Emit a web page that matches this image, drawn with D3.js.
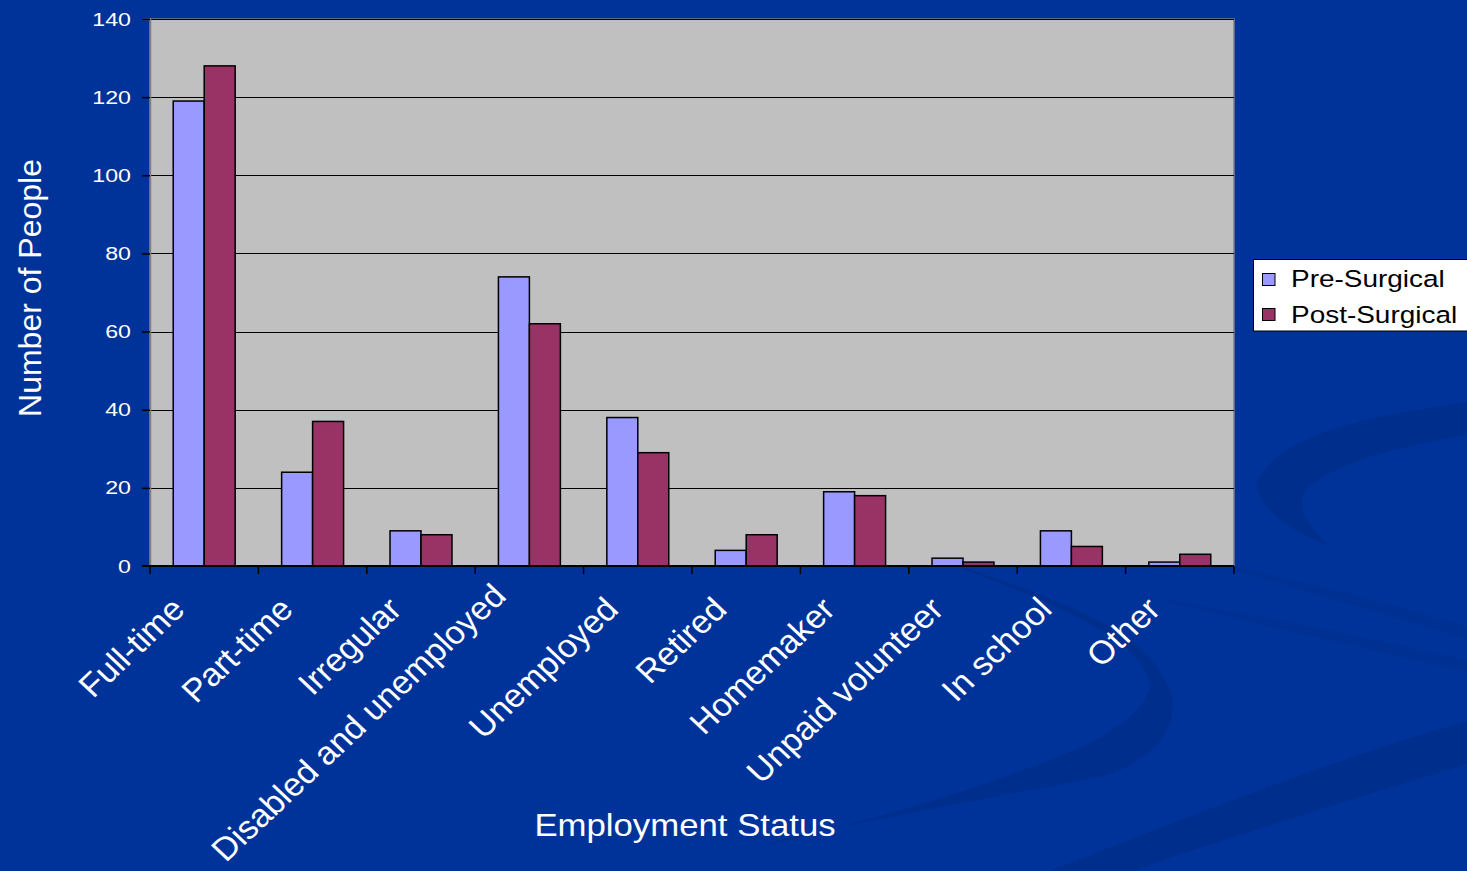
<!DOCTYPE html>
<html>
<head>
<meta charset="utf-8">
<script src="https://cdn.jsdelivr.net/npm/d3@7"></script>
<style>
  html, body { margin: 0; padding: 0; background: #003399; overflow: hidden; }
  svg { display: block; }
  text { font-family: "Liberation Sans", Arial, sans-serif; }
</style>
</head>
<body>
<svg id="chart" width="1467" height="871"></svg>
<script>
const categories = ["Full-time", "Part-time", "Irregular", "Disabled and unemployed", "Unemployed", "Retired", "Homemaker", "Unpaid volunteer", "In school", "Other"];
const seriesNames = ["Pre-Surgical", "Post-Surgical"];
const preSurgical = [119, 24, 9, 74, 38, 4, 19, 2, 9, 1];
const postSurgical = [128, 37, 8, 62, 29, 8, 18, 1, 5, 3];
const yTicks = [0, 20, 40, 60, 80, 100, 120, 140];
const seriesColors = ["#9999FF", "#993366"];

const svg = d3.select("#chart");
const W = 1467, H = 871;

// background
svg.append("rect").attr("width", W).attr("height", H).attr("fill", "#003399");
const swoosh = svg.append("g").attr("fill", "#002e8c");
swoosh.append("path").attr("d", "M1467,402 C1350,418 1272,440 1256,485 C1262,512 1292,532 1330,546 C1305,525 1296,505 1306,490 C1332,463 1400,446 1467,435 Z");
swoosh.append("path").attr("d", "M960,566 C1060,600 1140,630 1163,677 C1190,715 1160,760 1100,777 C980,800 870,820 780,840 L760,846 C870,822 990,785 1067,753 C1130,727 1150,700 1150,683 C1140,640 1060,605 960,568 Z").attr("opacity", 0.9);
swoosh.append("path").attr("d", "M1467,721 L1467,764 C1350,800 1220,840 1133,871 L1050,871 C1180,820 1330,760 1467,721 Z");
swoosh.append("path").attr("d", "M1167,600 C1260,615 1380,640 1467,660 L1467,672 C1380,652 1260,625 1167,602 Z").attr("opacity", 0.6);
swoosh.append("path").attr("d", "M1234,567 C1320,585 1400,605 1467,627 L1467,640 C1400,618 1320,596 1234,570 Z").attr("opacity", 0.5);

const plot = { left: 150, right: 1234, top: 19, bottom: 566 };

const x = d3.scaleBand()
  .domain(categories)
  .range([plot.left, plot.right])
  .paddingInner(1.5 / 3.5)
  .paddingOuter(0.75 / 3.5);
const x1 = d3.scaleBand().domain(seriesNames).range([0, x.bandwidth()]).padding(0);
const y = d3.scaleLinear().domain([0, 140]).range([plot.bottom, plot.top]);

// plot area
svg.append("rect")
  .attr("x", plot.left).attr("y", plot.top)
  .attr("width", plot.right - plot.left).attr("height", plot.bottom - plot.top)
  .attr("fill", "#C0C0C0").attr("stroke", "#808080").attr("stroke-width", 1.5);

// gridlines
svg.append("g").selectAll("line").data(yTicks.filter(d => d > 0)).join("line")
  .attr("x1", plot.left).attr("x2", plot.right)
  .attr("y1", d => Math.round(y(d)) + 0.5).attr("y2", d => Math.round(y(d)) + 0.5)
  .attr("stroke", "#000").attr("stroke-width", 1);

// bars
const data = categories.map((c, i) => ({ cat: c, vals: [preSurgical[i], postSurgical[i]] }));
const groups = svg.append("g").selectAll("g").data(data).join("g")
  .attr("transform", d => `translate(${x(d.cat)},0)`);
groups.selectAll("rect").data(d => d.vals.map((v, j) => ({ v, s: seriesNames[j], j }))).join("rect")
  .attr("x", d => x1(d.s))
  .attr("y", d => y(d.v))
  .attr("width", x1.bandwidth())
  .attr("height", d => y(0) - y(d.v))
  .attr("fill", d => seriesColors[d.j])
  .attr("stroke", "#000").attr("stroke-width", 1.5);

// y axis
const yAxis = d3.axisLeft(y).tickValues(yTicks).tickSize(8).tickPadding(10).tickFormat(d3.format("d"));
const yg = svg.append("g").attr("transform", `translate(${plot.left},0)`).call(yAxis);
yg.select(".domain").attr("stroke", "#808080").attr("stroke-width", 1.5);
yg.selectAll(".tick line").attr("stroke", "#000").attr("stroke-width", 1.5);
yg.selectAll(".tick text")
  .attr("x", 0)
  .attr("transform", "translate(-19,0) scale(1.22,1)")
  .attr("fill", "#fff").attr("font-size", 19).attr("font-family", "Liberation Sans, Arial, sans-serif");

// x axis
const boundaries = categories.map((c, i) => plot.left + i * x.step()).concat([plot.right]);
svg.append("line").attr("x1", plot.left - 8).attr("x2", plot.right)
  .attr("y1", plot.bottom).attr("y2", plot.bottom).attr("stroke", "#000").attr("stroke-width", 2);
svg.append("g").selectAll("line").data(boundaries).join("line")
  .attr("x1", d => d).attr("x2", d => d)
  .attr("y1", plot.bottom).attr("y2", plot.bottom + 8)
  .attr("stroke", "#000").attr("stroke-width", 1.5);

const labelPos = d => ({ x: x(d) + x.bandwidth() / 2 - 36, y: plot.bottom + 28 });
const xLabels = svg.append("g").selectAll("text").data(categories).join("text")
  .attr("transform", d => `translate(${labelPos(d).x},${labelPos(d).y}) scale(1.03,0.97) rotate(-45)`)
  .attr("text-anchor", "end")
  .attr("dy", "0.75em")
  .attr("fill", "#fff")
  .attr("font-size", 33.5)
  .text(d => d);
// shift any label that would run past the bottom edge upward (as the original does)
xLabels.each(function (d) {
  const r = this.getBoundingClientRect();
  const over = r.bottom - (H - 3);
  if (over > 0) {
    const p = labelPos(d);
    d3.select(this).attr("transform", `translate(${p.x - 4},${p.y - over}) scale(1.03,0.97) rotate(-45)`);
  }
});

// axis titles
svg.append("text").attr("transform", "translate(685,836) scale(1.1,1)").attr("text-anchor", "middle")
  .attr("fill", "#fff").attr("font-size", 31.6).text("Employment Status");
svg.append("text").attr("transform", "translate(41,288) rotate(-90)").attr("text-anchor", "middle")
  .attr("fill", "#fff").attr("font-size", 32).text("Number of People");

// legend
const lg = svg.append("g");
lg.append("rect").attr("x", 1253.5).attr("y", 259.5).attr("width", 220).attr("height", 71.5)
  .attr("fill", "#fff").attr("stroke", "#000").attr("stroke-width", 1);
seriesNames.forEach((s, i) => {
  lg.append("rect").attr("x", 1262.5).attr("y", 273.5 + i * 35).attr("width", 12.5).attr("height", 12)
    .attr("fill", seriesColors[i]).attr("stroke", "#000").attr("stroke-width", 1);
  lg.append("text").attr("transform", `translate(1291,${286.5 + i * 36}) scale(1.2,1)`)
    .attr("fill", "#000").attr("font-size", 23.3).text(s);
});
</script>
</body>
</html>
